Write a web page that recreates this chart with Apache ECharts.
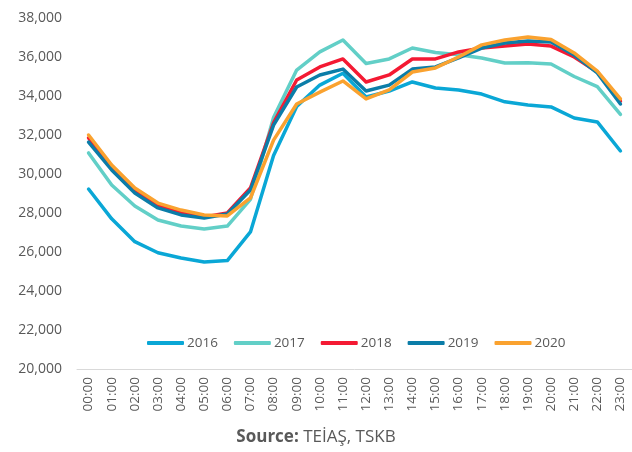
<!DOCTYPE html>
<html>
<head>
<meta charset="utf-8">
<script src="https://cdn.jsdelivr.net/npm/echarts@6/dist/echarts.min.js"></script>
<style>
html,body{margin:0;padding:0;background:#fff;}
#chart{width:632px;height:452px;}
</style>
</head>
<body>
<div id="chart"></div>
<script>
var hours = ["00:00","01:00","02:00","03:00","04:00","05:00","06:00","07:00","08:00","09:00","10:00","11:00","12:00","13:00","14:00","15:00","16:00","17:00","18:00","19:00","20:00","21:00","22:00","23:00"];
var years = ["2016","2017","2018","2019","2020"];
var s2016 = [29230,27700,26530,25960,25690,25490,25560,27030,30950,33460,34560,35170,33950,34250,34720,34410,34310,34100,33700,33540,33440,32870,32670,31180];
var s2017 = [31080,29440,28360,27640,27330,27180,27330,28700,32900,35330,36260,36870,35670,35900,36460,36230,36120,35950,35690,35710,35640,35000,34480,33060];
var s2018 = [31850,30310,29130,28360,28000,27800,28000,29280,32620,34820,35490,35900,34720,35080,35900,35900,36260,36460,36560,36670,36560,36000,35230,33740];
var s2019 = [31640,30210,29030,28260,27900,27740,27950,29180,32510,34460,35080,35380,34260,34560,35380,35490,35950,36460,36720,36820,36770,36100,35180,33590];
var s2020 = [32000,30460,29280,28510,28150,27900,27850,28770,31740,33590,34200,34770,33850,34310,35230,35440,36000,36620,36870,37030,36900,36210,35280,33850];
var yTicks = {min: 20000, max: 38000, step: 2000};
var colors = ["#0AA7D6","#62CFC7","#F41A33","#0B7DA8","#FAA22F"];
var seriesData = [s2016, s2017, s2018, s2019, s2020];

var chart = echarts.init(document.getElementById('chart'), null, {renderer:'canvas'});
var font = '"Open Sans", sans-serif';
var series = years.map(function(y, i){
  return {
    name: y, type: 'line', data: seriesData[i], symbol: 'none',
    lineStyle: {width: 3.5, color: colors[i], cap: 'round', join: 'round'},
    itemStyle: {color: colors[i]},
    animation: false, z: 2 + i
  };
});
chart.setOption({
  animation: false,
  grid: {left: 77, right: 0, top: 18, bottom: 83, containLabel: false},
  legend: {
    data: years, left: 142, top: 331,
    icon: 'roundRect', itemWidth: 37, itemHeight: 4, itemGap: 16,
    textStyle: {color: '#595959', fontSize: 13.5, fontFamily: font, padding: [0,0,0,-2]}
  },
  xAxis: {
    type: 'category', data: hours, boundaryGap: true,
    axisLine: {show: true, lineStyle: {color: '#D9D9D9', width: 1}},
    axisTick: {show: false},
    axisLabel: {rotate: 90, interval: 0, color: '#595959', fontSize: 13.5, fontFamily: font, margin: 8}
  },
  yAxis: {
    type: 'value', min: yTicks.min, max: yTicks.max, interval: yTicks.step,
    splitLine: {show: false}, axisLine: {show: false}, axisTick: {show: false},
    axisLabel: {color: '#595959', fontSize: 14, fontFamily: font, margin: 15,
      formatter: function(v){ return v.toLocaleString('en-US'); }}
  },
  graphic: [{
    type: 'text', left: 'center', top: 429,
    style: {
      text: '{b|Source:} TEİAŞ, TSKB',
      rich: {b: {fontWeight: 'bold', fontSize: 17, fill: '#595959', fontFamily: font}},
      fontSize: 17, fill: '#595959', fontFamily: font
    }
  }],
  series: series
});
</script>
</body>
</html>
